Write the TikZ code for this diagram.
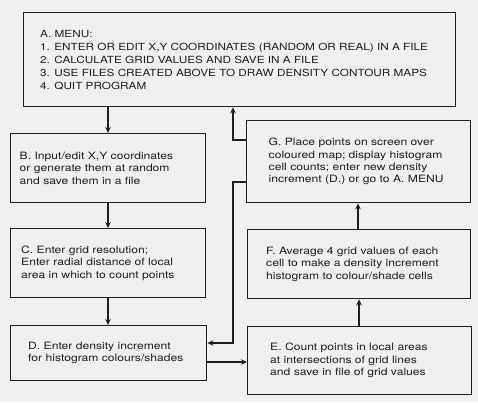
\documentclass[tikz,border=0pt]{standalone}
\usepackage{fontspec}
\setmainfont{TeX Gyre Heros}[FakeStretch=1.2]
\usetikzlibrary{arrows.meta}
\definecolor{bg}{HTML}{F0F0F0}
\definecolor{ink}{HTML}{1E1E1E}
\tikzset{
  box/.style={draw=ink, line width=1.4pt, rectangle, anchor=north west, inner sep=0pt},
  txt/.style={anchor=west, align=left, inner sep=0pt, text=ink, font=\fontsize{10.1}{12.4}\selectfont},
  txta/.style={txt, font=\fontsize{9.8}{13.2}\selectfont},
  arr/.style={draw=ink, line width=1.3pt, -{Stealth[length=6pt,width=5.5pt]}},
}
\begin{document}
\begin{tikzpicture}[x=1pt,y=-1pt]
\fill[bg] (0,0) rectangle (478,402);
\useasboundingbox (0,0) rectangle (478,402);
% boxes
\node[box, minimum width=432pt, minimum height=94pt] (A) at (23,12) {};
\node[box, minimum width=195.5pt, minimum height=69pt] (B) at (9.5,133) {};
\node[box, minimum width=195pt, minimum height=69pt] (C) at (10,228) {};
\node[box, minimum width=196pt, minimum height=55pt] (D) at (10,325) {};
\node[box, minimum width=224pt, minimum height=68pt] (E) at (247,326) {};
\node[box, minimum width=223.5pt, minimum height=69pt] (F) at (246.5,229) {};
\node[box, minimum width=224pt, minimum height=82pt] (G) at (246,120) {};
% texts
\node[txta] (At) at ([xshift=17pt,yshift=-0.5pt]A.west) {A. MENU:\\1. ENTER OR EDIT X,Y COORDINATES (RANDOM OR REAL) IN A FILE\\2. CALCULATE GRID VALUES AND SAVE IN A FILE\\3. USE FILES CREATED ABOVE TO DRAW DENSITY CONTOUR MAPS\\4. QUIT PROGRAM};
\node[txt] (Bt) at ([xshift=10pt]B.west) {B. Input/edit X,Y coordinates\\or generate them at random\\and save them in a file};
\node[txt] (Ct) at ([xshift=11pt]C.west) {C. Enter grid resolution;\\Enter radial distance of local\\area in which to count points};
\node[txt] (Dt) at ([xshift=18pt]D.west) {D. Enter density increment\\for histogram colours/shades};
\node[txt] (Et) at ([xshift=23pt]E.west) {E. Count points in local areas\\at intersections of grid lines\\and save in file of grid values};
\node[txt] (Ft) at ([xshift=19.5pt]F.west) {F. Average 4 grid values of each\\cell to make a density increment\\histogram to colour/shade cells};
\node[txt] (Gt) at ([xshift=22.5pt]G.west) {G. Place points on screen over\\coloured map; display histogram\\cell counts; enter new density\\increment (D.) or go to A. MENU};
% connectors
\coordinate (lc) at (108,0);
\coordinate (ga) at (233,140);
\coordinate (gd1) at (233,182);
\coordinate (gd2) at (233,343);
\coordinate (de) at (0,362);
\coordinate (ef) at (359,0);
\coordinate (fg) at (358,0);
\draw[arr] (A.south -| lc) -- (B.north -| lc);
\draw[arr] (B.south -| lc) -- (C.north -| lc);
\draw[arr] (C.south -| lc) -- (D.north -| lc);
\draw[arr] (G.west |- ga) -- (ga) -- (ga |- A.south);
\draw[arr] (G.west |- gd1) -- (gd1) -- (gd2) -- (D.east |- gd2);
\draw[arr] (D.east |- de) -- (E.west |- de);
\draw[arr] (E.north -| ef) -- (F.south -| ef);
\draw[arr] (F.north -| fg) -- (G.south -| fg);
\end{tikzpicture}
\end{document}
